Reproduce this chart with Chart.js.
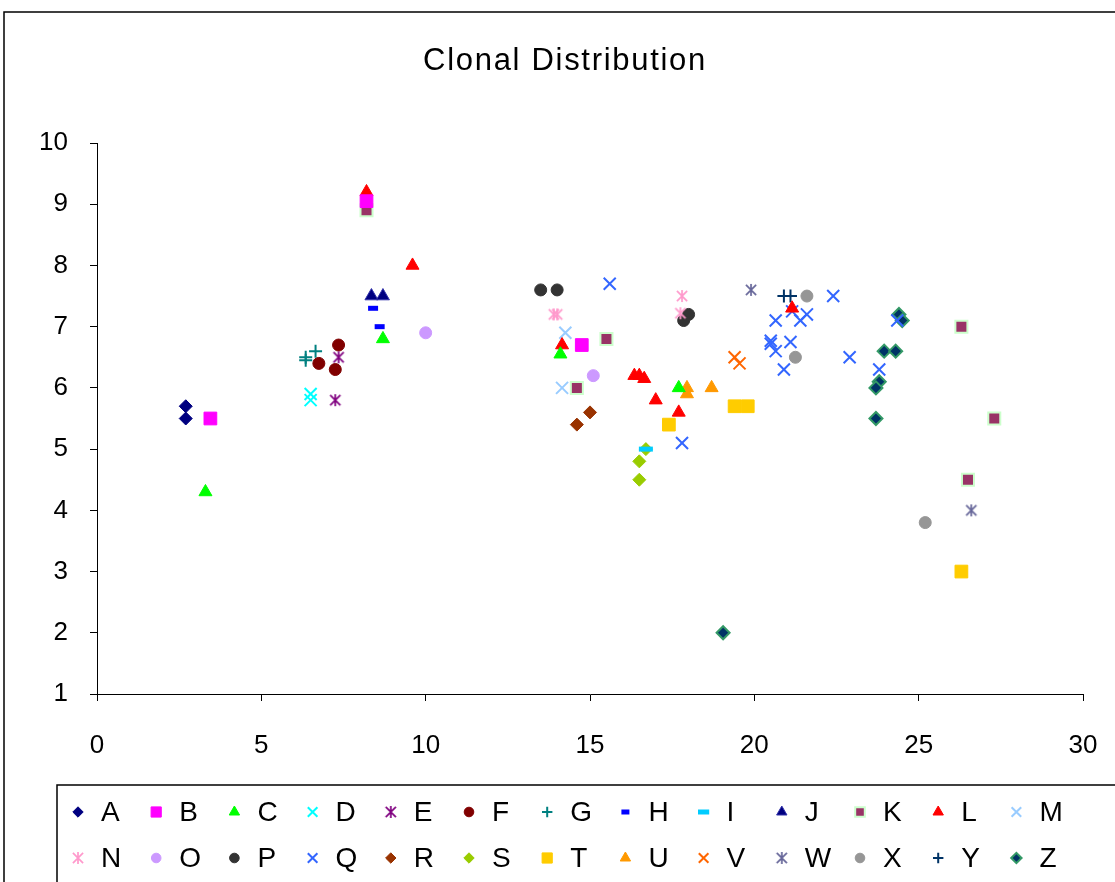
<!DOCTYPE html>
<html>
<head>
<meta charset="utf-8">
<title>Clonal Distribution</title>
<script src="https://cdn.jsdelivr.net/npm/chart.js@4.4.1/dist/chart.umd.min.js"></script>
<style>
  html, body { margin: 0; padding: 0; background: #fff; }
  canvas { display: block; }
</style>
</head>
<body>
<canvas id="clonalChart" width="1115" height="882"></canvas>
<script>
// --- DATA ---
// one entry per clone: x positions and y positions of its samples
var cloneNames = ['A', 'B', 'C', 'D', 'E', 'F', 'G', 'H', 'I', 'J', 'K', 'L', 'M',
                  'N', 'O', 'P', 'Q', 'R', 'S', 'T', 'U', 'V', 'W', 'X', 'Y', 'Z'];

var cloneX = [
    [2.7, 2.7],                                   // A
    [3.45, 14.75, 8.2],                           // B
    [3.3, 8.7, 14.1, 17.7],                       // C
    [6.5, 6.5],                                   // D
    [7.35, 7.25],                                 // E
    [7.35, 6.75, 7.25],                           // F
    [6.65, 6.35, 6.35],                           // G
    [8.4, 8.6],                                   // H
    [16.7],                                       // I
    [8.35, 8.7],                                  // J
    [8.2, 14.6, 15.5, 26.3, 26.5, 27.3],          // K
    [8.2, 9.6, 14.15, 16.35, 16.5, 16.65, 17.0, 17.7, 21.15], // L
    [14.25, 14.15],                               // M
    [13.9, 14.0, 17.8, 17.75],                    // N
    [10.0, 15.1],                                 // O
    [13.5, 14.0, 18.0, 17.85],                    // P
    [15.6, 17.8, 20.65, 21.15, 21.4, 21.6, 22.4, 20.5, 20.5, 20.65, 21.1, 20.9, 22.9, 23.8, 24.35], // Q
    [14.6, 15.0],                                 // R
    [16.7, 16.5, 16.5],                           // S
    [17.4, 19.4, 19.8, 26.3],                     // T
    [17.95, 17.95, 18.7],                         // U
    [19.4, 19.55],                                // V
    [19.9, 26.6],                                 // W
    [21.6, 21.25, 25.2],                          // X
    [20.9, 21.1],                                 // Y
    [24.4, 24.5, 23.95, 24.3, 23.8, 23.7, 23.7, 19.05] // Z
];

var cloneY = [
    [5.7, 5.5],
    [5.5, 6.7, 9.05],
    [4.3, 6.8, 6.55, 6.0],
    [5.9, 5.8],
    [6.5, 5.8],
    [6.7, 6.4, 6.3],
    [6.6, 6.5, 6.45],
    [7.3, 7.0],
    [5.0],
    [7.5, 7.5],
    [8.9, 6.0, 6.8, 7.0, 4.5, 5.5],
    [9.2, 8.0, 6.7, 6.2, 6.2, 6.15, 5.8, 5.6, 7.3],
    [6.9, 6.0],
    [7.2, 7.2, 7.5, 7.22],
    [6.9, 6.2],
    [7.6, 7.6, 7.2, 7.1],
    [7.7, 5.1, 7.1, 7.25, 7.1, 7.2, 7.5, 6.77, 6.72, 6.6, 6.75, 6.3, 6.5, 6.3, 7.1],
    [5.4, 5.6],
    [5.0, 4.8, 4.5],
    [5.4, 5.7, 5.7, 3.0],
    [6.0, 5.9, 6.0],
    [6.5, 6.4],
    [7.6, 4.0],
    [7.5, 6.5, 3.8],
    [7.5, 7.5],
    [7.2, 7.1, 6.6, 6.6, 6.1, 6.0, 5.5, 2.0]
];

var xTicks = [0, 5, 10, 15, 20, 25, 30];
var yTicks = [1, 2, 3, 4, 5, 6, 7, 8, 9, 10];

// excel style star: an X with a vertical stroke through it
function starMarker(color, size) {
    var c = document.createElement('canvas');
    c.width = size;
    c.height = size;
    var g = c.getContext('2d');
    var m = size / 2;
    var a = size / 2 - 1;
    var d = a * 0.85;
    g.strokeStyle = color;
    g.lineWidth = 1.7;
    g.beginPath();
    g.moveTo(m, m - a); g.lineTo(m, m + a);
    g.moveTo(m - d, m - d); g.lineTo(m + d, m + d);
    g.moveTo(m + d, m - d); g.lineTo(m - d, m + d);
    g.stroke();
    return c;
}

// marker look for each clone, same order as cloneNames
var markers = [
    { style: 'rectRot', r: 6.5, fill: '#000080', line: '#000080', w: 1 },
    { style: 'rect', r: 9, fill: '#FF00FF', line: '#FF00FF', w: 1 },
    { style: 'triangle', r: 7.5, fill: '#00FF00', line: '#00FF00', w: 1 },
    { style: 'crossRot', r: 8.5, fill: '#00FFFF', line: '#00FFFF', w: 2 },
    { style: starMarker('#800080', 14), r: 7, fill: '#800080', line: '#800080', w: 1 },
    { style: 'circle', r: 6, fill: '#800000', line: '#800000', w: 1 },
    { style: 'cross', r: 6.5, fill: '#008080', line: '#008080', w: 2 },
    { style: 'line', r: 5, fill: '#0000FF', line: '#0000FF', w: 5 },
    { style: 'line', r: 7, fill: '#00CCFF', line: '#00CCFF', w: 5 },
    { style: 'triangle', r: 7.5, fill: '#000080', line: '#3333AA', w: 1 },
    { style: 'rect', r: 8.5, fill: '#993366', line: '#CCFFCC', w: 2 },
    { style: 'triangle', r: 7.5, fill: '#FF0000', line: '#FF0000', w: 1 },
    { style: 'crossRot', r: 8.5, fill: '#99CCFF', line: '#99CCFF', w: 2 },
    { style: starMarker('#FF99CC', 14), r: 7, fill: '#FF99CC', line: '#FF99CC', w: 1 },
    { style: 'circle', r: 6, fill: '#CC99FF', line: '#CC99FF', w: 1 },
    { style: 'circle', r: 6, fill: '#333333', line: '#333333', w: 1 },
    { style: 'crossRot', r: 8.5, fill: '#3366FF', line: '#3366FF', w: 2 },
    { style: 'rectRot', r: 6.5, fill: '#993300', line: '#993300', w: 1 },
    { style: 'rectRot', r: 6.5, fill: '#99CC00', line: '#99CC00', w: 1 },
    { style: 'rect', r: 9, fill: '#FFCC00', line: '#FFCC00', w: 1 },
    { style: 'triangle', r: 7.5, fill: '#FF9900', line: '#FF9900', w: 1 },
    { style: 'crossRot', r: 8.5, fill: '#FF6600', line: '#FF6600', w: 2 },
    { style: starMarker('#666699', 14), r: 7, fill: '#666699', line: '#666699', w: 1 },
    { style: 'circle', r: 6, fill: '#969696', line: '#969696', w: 1 },
    { style: 'cross', r: 6.5, fill: '#003366', line: '#003366', w: 2 },
    { style: 'rectRot', r: 6.5, fill: '#003366', line: '#339966', w: 2 }
];

var FONT = '"Liberation Sans", Arial, sans-serif';

// build scatter datasets
var datasets = cloneNames.map(function (name, i) {
    var pts = cloneX[i].map(function (x, j) {
        return { x: x, y: cloneY[i][j] };
    });
    var m = markers[i];
    return {
        label: name,
        data: pts,
        showLine: false,
        pointStyle: m.style,
        pointRadius: m.r,
        pointHoverRadius: m.r,
        pointBackgroundColor: m.fill,
        pointBorderColor: m.line,
        pointBorderWidth: m.w,
        backgroundColor: m.fill,
        borderColor: m.line
    };
});

// title, outer frame and the boxed legend underneath
var decorPlugin = {
    id: 'decor',
    afterDraw: function (chart) {
        var ctx = chart.ctx;
        ctx.save();

        ctx.strokeStyle = '#000';
        ctx.lineWidth = 1.5;
        ctx.strokeRect(4, 12, 1300, 1000);

        // title
        ctx.fillStyle = '#000';
        ctx.font = '31px ' + FONT;
        if ('letterSpacing' in ctx) ctx.letterSpacing = '1.7px';
        ctx.textAlign = 'center';
        ctx.textBaseline = 'middle';
        ctx.fillText('Clonal Distribution', 565, 61);
        if ('letterSpacing' in ctx) ctx.letterSpacing = '0px';

        // legend box
        ctx.lineWidth = 1.5;
        ctx.strokeRect(57, 785, 1200, 200);

        ctx.font = '28px ' + FONT;
        ctx.textAlign = 'left';
        chart.data.datasets.forEach(function (ds, i) {
            var row = Math.floor(i / 13);
            var col = i % 13;
            var mx = 78 + col * 78.2;
            var my = 812 + row * 46;
            ctx.save();
            ctx.fillStyle = ds.pointBackgroundColor;
            ctx.strokeStyle = ds.pointBorderColor;
            ctx.lineWidth = ds.pointBorderWidth;
            if (typeof ds.pointStyle === 'object') {
                var s = ds.pointStyle;
                ctx.drawImage(s, mx - s.width / 2, my - s.height / 2, s.width, s.height);
            } else {
                Chart.helpers.drawPoint(ctx, {
                    pointStyle: ds.pointStyle,
                    radius: ds.pointRadius * 0.8,
                    borderWidth: ds.pointBorderWidth,
                    rotation: 0
                }, mx, my);
            }
            ctx.restore();
            ctx.fillStyle = '#000';
            ctx.fillText(ds.label, mx + 23, my + 1);
        });

        ctx.restore();
    }
};

var chart = new Chart(document.getElementById('clonalChart'), {
    type: 'scatter',
    data: { datasets: datasets },
    options: {
        responsive: false,
        animation: false,
        devicePixelRatio: 1,
        events: [],
        layout: {
            padding: { top: 143, left: 0, right: 32, bottom: 108 }
        },
        plugins: {
            legend: { display: false },
            title: { display: false },
            tooltip: { enabled: false }
        },
        scales: {
            x: {
                type: 'linear',
                min: 0,
                max: 30,
                afterFit: function (scale) {
                    scale.height = 80;
                    scale.paddingLeft = 0;
                    scale.paddingRight = 0;
                },
                afterBuildTicks: function (scale) {
                    scale.ticks = xTicks.map(function (v) { return { value: v }; });
                },
                border: { display: true, color: '#000', width: 1 },
                grid: { drawOnChartArea: false, drawTicks: true, tickLength: 7, color: '#000' },
                ticks: { color: '#000', font: { family: FONT, size: 26 }, padding: 29, maxRotation: 0 }
            },
            y: {
                type: 'linear',
                min: 1,
                max: 10,
                afterFit: function (scale) { scale.width = 97; },
                afterBuildTicks: function (scale) {
                    scale.ticks = yTicks.map(function (v) { return { value: v }; });
                },
                border: { display: true, color: '#000', width: 1 },
                grid: { drawOnChartArea: false, drawTicks: true, tickLength: 7, color: '#000' },
                ticks: { color: '#000', font: { family: FONT, size: 26 }, padding: 22 }
            }
        }
    },
    plugins: [decorPlugin]
});
</script>
</body>
</html>
